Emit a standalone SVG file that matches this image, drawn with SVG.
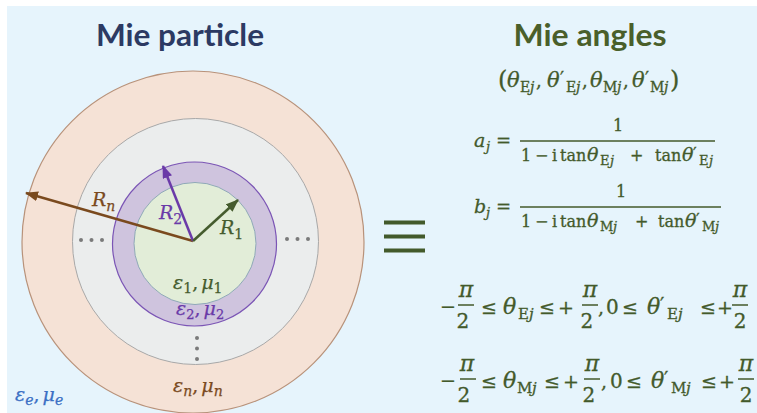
<svg xmlns="http://www.w3.org/2000/svg" width="757" height="413" viewBox="0 0 757 413">
<defs>
<style>
.title{font-family:Lato,"Open Sans",sans-serif;font-weight:700;font-size:30px;}
.m{font-family:"DejaVu Serif","Liberation Serif",serif;fill:#435a2b;stroke:#435a2b;stroke-width:0.3;}
.i{font-style:italic;}
.n{font-style:normal;}
.f16{font-size:16px;}
.f18{font-size:18px;}
.f19{font-size:19px;}
.t19{font-size:19px;}
.t21{font-size:21px;}
.t22{font-size:22px;}
.s13{font-size:13px;}
.s14{font-size:14px;}
.s15{font-size:15px;}
.lbl{font-family:"DejaVu Serif","Liberation Serif",serif;font-style:italic;font-size:19px;stroke-width:0.25;}
.bar{stroke:#435a2b;stroke-width:1.5;}
.eq{stroke:#435a2b;stroke-width:4;}
.dot{fill:#7a7a7a;}
.arr{stroke-width:2.5;fill:none;}
</style>
<marker id="ah-brown" viewBox="0 0 13 10" refX="12" refY="5" markerWidth="13" markerHeight="10" markerUnits="userSpaceOnUse" orient="auto"><path d="M0,0 L13,5 L0,10 z" fill="#7a4a1e"/></marker>
<marker id="ah-purple" viewBox="0 0 13 10" refX="12" refY="5" markerWidth="13" markerHeight="10" markerUnits="userSpaceOnUse" orient="auto"><path d="M0,0 L13,5 L0,10 z" fill="#6a3aa8"/></marker>
<marker id="ah-green" viewBox="0 0 13 10" refX="12" refY="5" markerWidth="13" markerHeight="10" markerUnits="userSpaceOnUse" orient="auto"><path d="M0,0 L13,5 L0,10 z" fill="#455c2e"/></marker>
</defs>
<rect x="0" y="0" width="757" height="413" fill="#ffffff"/>
<rect x="7" y="6" width="750" height="407" fill="#e6f4fc"/>

<text class="title" x="180" y="46" text-anchor="middle" fill="#2c3a63" textLength="168" lengthAdjust="spacingAndGlyphs">Mie particle</text>
<text class="title" x="590" y="46" text-anchor="middle" fill="#4a5f2a" textLength="153" lengthAdjust="spacingAndGlyphs">Mie angles</text>

<g id="layer-n"><circle cx="193" cy="242" r="171" fill="#f5e2d6" stroke="#b8927a" stroke-width="1.2"/></g>
<g id="layer-gray"><circle cx="195.5" cy="241.5" r="123" fill="#ebeded" stroke="#a8a8a8" stroke-width="1"/></g>
<g id="layer-2"><circle cx="194.5" cy="244" r="82" fill="#cfc4de" stroke="#7b55b5" stroke-width="1.2"/></g>
<g id="layer-1"><circle cx="195" cy="243.5" r="61" fill="#e2edd8" stroke="#8fa8b8" stroke-width="1"/></g>

<g id="dots">
<circle class="dot" cx="81" cy="240" r="2"/><circle class="dot" cx="91.5" cy="240" r="2"/><circle class="dot" cx="102" cy="240" r="2"/>
<circle class="dot" cx="287" cy="239" r="2"/><circle class="dot" cx="297.5" cy="239" r="2"/><circle class="dot" cx="308" cy="239" r="2"/>
<circle class="dot" cx="197" cy="338" r="2"/><circle class="dot" cx="197" cy="348.5" r="2"/><circle class="dot" cx="197" cy="359" r="2"/>
</g>

<g id="connectors">
<line class="arr" x1="193" y1="241" x2="26" y2="193" stroke="#7a4a1e" marker-end="url(#ah-brown)"/>
<line class="arr" x1="193" y1="241" x2="163" y2="166" stroke="#6a3aa8" marker-end="url(#ah-purple)"/>
<line class="arr" x1="193" y1="241" x2="238" y2="200" stroke="#455c2e" marker-end="url(#ah-green)"/>
</g>

<g id="labels">
<text class="lbl" x="92" y="206" fill="#7a4a1e" stroke="#7a4a1e">R<tspan class="s14" dy="5">n</tspan></text>
<text class="lbl" x="159" y="219" fill="#6a3aa8" stroke="#6a3aa8">R<tspan class="s14 n" dy="5">2</tspan></text>
<text class="lbl" x="220" y="234" fill="#455c2e" stroke="#455c2e">R<tspan class="s14 n" dy="5">1</tspan></text>
<text class="lbl" x="173" y="289" fill="#455c2e" stroke="#455c2e">ε<tspan class="s14 n" dy="4">1</tspan><tspan class="n" dy="-4">,</tspan><tspan dx="3">μ</tspan><tspan class="s14 n" dy="4">1</tspan></text>
<text class="lbl" x="176" y="315" fill="#6a3aa8" stroke="#6a3aa8" font-size="18">ε<tspan class="s13 n" dy="4">2</tspan><tspan class="n" dy="-4">,</tspan><tspan dx="3">μ</tspan><tspan class="s13 n" dy="4">2</tspan></text>
<text class="lbl" x="173" y="392" fill="#7a4a1e" stroke="#7a4a1e">ε<tspan class="s14" dy="4">n</tspan><tspan class="n" dy="-4">,</tspan><tspan dx="3">μ</tspan><tspan class="s14" dy="4">n</tspan></text>
<text class="lbl" x="15" y="401" fill="#3a6fc4" stroke="#3a6fc4">ε<tspan class="s14" dy="4">e</tspan><tspan class="n" dy="-4">,</tspan><tspan dx="3">μ</tspan><tspan class="s14" dy="4">e</tspan></text>
</g>

<g id="equiv">
<line class="eq" x1="384" y1="222.5" x2="425" y2="222.5"/>
<line class="eq" x1="384" y1="236.5" x2="425" y2="236.5"/>
<line class="eq" x1="384" y1="250.5" x2="425" y2="250.5"/>
</g>

<g id="tuple">
<text class="m f18">
<tspan x="498" y="88" font-size="24">(</tspan><tspan class="i t21" x="507" y="87">θ</tspan><tspan class="s14" x="520" y="92">E</tspan><tspan class="i s14" x="530" y="92">j</tspan><tspan x="536" y="87">,</tspan>
<tspan class="i t21" x="547" y="87">θ</tspan><tspan x="560" y="85">′</tspan><tspan class="s14" x="566" y="92">E</tspan><tspan class="i s14" x="576" y="92">j</tspan><tspan x="582" y="87">,</tspan>
<tspan class="i t21" x="590" y="87">θ</tspan><tspan class="s14" x="603" y="92">M</tspan><tspan class="i s14" x="617" y="92">j</tspan><tspan x="623" y="87">,</tspan>
<tspan class="i t21" x="632" y="87">θ</tspan><tspan x="645" y="85">′</tspan><tspan class="s14" x="650" y="92">M</tspan><tspan class="i s14" x="664" y="92">j</tspan><tspan x="670" y="88" font-size="24">)</tspan>
</text>
</g>

<g id="formula-a">
<text class="m f16">
<tspan class="i" x="474" y="147" font-size="19">a</tspan><tspan class="i s13" x="486" y="151">j</tspan><tspan x="496" y="147" font-size="18">=</tspan>
<tspan x="613" y="131">1</tspan>
<tspan x="521" y="161">1</tspan><tspan x="535" y="161">−</tspan><tspan x="552" y="161">i</tspan><tspan x="560" y="161">tan</tspan><tspan class="i t19" x="587" y="161">θ</tspan><tspan class="s13" x="600" y="165">E</tspan><tspan class="i s13" x="610" y="165">j</tspan><tspan x="630" y="161">+</tspan><tspan x="655" y="161">tan</tspan><tspan class="i t19" x="682" y="161">θ</tspan><tspan x="693" y="159">′</tspan><tspan class="s13" x="699" y="165">E</tspan><tspan class="i s13" x="709" y="165">j</tspan>
</text>
<line class="bar" x1="520" y1="141" x2="715" y2="141"/>
</g>

<g id="formula-b">
<text class="m f16">
<tspan class="i" x="474" y="213" font-size="19">b</tspan><tspan class="i s13" x="486" y="217">j</tspan><tspan x="496" y="213" font-size="18">=</tspan>
<tspan x="616" y="197">1</tspan>
<tspan x="521" y="227">1</tspan><tspan x="535" y="227">−</tspan><tspan x="552" y="227">i</tspan><tspan x="560" y="227">tan</tspan><tspan class="i t19" x="587" y="227">θ</tspan><tspan class="s13" x="600" y="231">M</tspan><tspan class="i s13" x="613" y="231">j</tspan><tspan x="635" y="227">+</tspan><tspan x="658" y="227">tan</tspan><tspan class="i t19" x="685" y="227">θ</tspan><tspan x="696" y="225">′</tspan><tspan class="s13" x="702" y="231">M</tspan><tspan class="i s13" x="715" y="231">j</tspan>
</text>
<line class="bar" x1="520" y1="207" x2="721" y2="207"/>
</g>

<g id="ineq-E">
<text class="m f19">
<tspan x="440" y="313">−</tspan>
<tspan class="i t22" x="466" y="297" text-anchor="middle">π</tspan><tspan x="466" y="328" text-anchor="middle" font-size="20">2</tspan>
<tspan x="481" y="314">≤</tspan><tspan class="i t22" x="503" y="314">θ</tspan><tspan class="s15" x="518" y="319">E</tspan><tspan class="i s15" x="529" y="319">j</tspan><tspan x="539" y="314">≤</tspan><tspan x="558" y="314">+</tspan>
<tspan class="i t22" x="590" y="297" text-anchor="middle">π</tspan><tspan x="590" y="328" text-anchor="middle" font-size="20">2</tspan>
<tspan x="598" y="314">,</tspan><tspan x="606" y="314" font-size="20">0</tspan><tspan x="622" y="314">≤</tspan><tspan class="i t22" x="647" y="314">θ</tspan><tspan x="660" y="311">′</tspan><tspan class="s15" x="667" y="319">E</tspan><tspan class="i s15" x="678" y="319">j</tspan><tspan x="700" y="314">≤</tspan><tspan x="717" y="314">+</tspan>
<tspan class="i t22" x="740" y="297" text-anchor="middle">π</tspan><tspan x="740" y="328" text-anchor="middle" font-size="20">2</tspan>
</text>
<line class="bar" x1="458" y1="305" x2="474" y2="305"/>
<line class="bar" x1="582" y1="305" x2="598" y2="305"/>
<line class="bar" x1="732" y1="305" x2="748" y2="305"/>
</g>

<g id="ineq-M">
<text class="m f19">
<tspan x="440" y="387">−</tspan>
<tspan class="i t22" x="467" y="371" text-anchor="middle">π</tspan><tspan x="467" y="402" text-anchor="middle" font-size="20">2</tspan>
<tspan x="481" y="388">≤</tspan><tspan class="i t22" x="503" y="388">θ</tspan><tspan class="s15" x="517" y="393">M</tspan><tspan class="i s15" x="532" y="393">j</tspan><tspan x="544" y="388">≤</tspan><tspan x="563" y="388">+</tspan>
<tspan class="i t22" x="592" y="371" text-anchor="middle">π</tspan><tspan x="592" y="402" text-anchor="middle" font-size="20">2</tspan>
<tspan x="601" y="388">,</tspan><tspan x="610" y="388" font-size="20">0</tspan><tspan x="626" y="388">≤</tspan><tspan class="i t22" x="651" y="388">θ</tspan><tspan x="664" y="385">′</tspan><tspan class="s15" x="671" y="393">M</tspan><tspan class="i s15" x="686" y="393">j</tspan><tspan x="701" y="388">≤</tspan><tspan x="719" y="388">+</tspan>
<tspan class="i t22" x="746" y="371" text-anchor="middle">π</tspan><tspan x="746" y="402" text-anchor="middle" font-size="20">2</tspan>
</text>
<line class="bar" x1="460" y1="379" x2="476" y2="379"/>
<line class="bar" x1="584" y1="379" x2="600" y2="379"/>
<line class="bar" x1="738" y1="379" x2="754" y2="379"/>
</g>
</svg>
